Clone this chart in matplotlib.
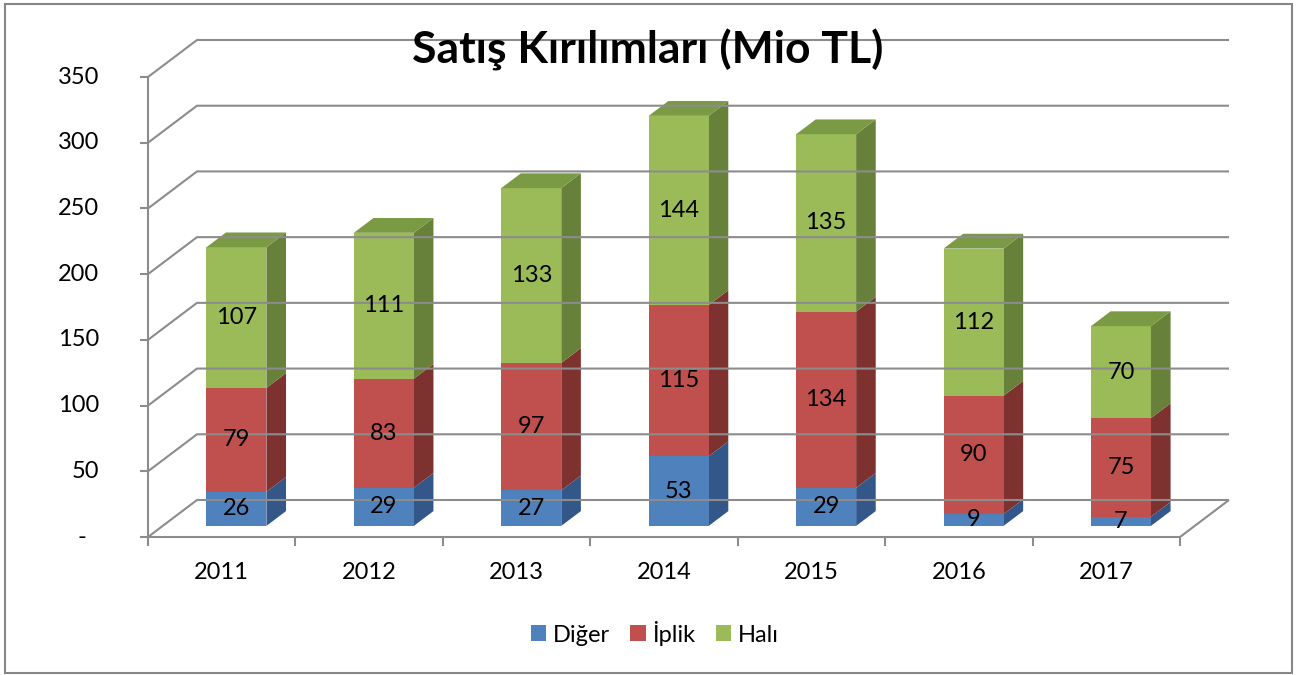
import numpy as np
import matplotlib.pyplot as plt
from matplotlib.patches import Polygon, Rectangle, Patch

plt.rcParams['font.family'] = ['Lato', 'DejaVu Sans']

years = ['2011', '2012', '2013', '2014', '2015', '2016', '2017']
diger = [26, 29, 27, 53, 29, 9, 7]
iplik = [79, 83, 97, 115, 134, 90, 75]
hali = [107, 111, 133, 144, 135, 112, 70]
series = [diger, iplik, hali]
names = ['Diğer', 'İplik', 'Halı']
yticks = [0, 50, 100, 150, 200, 250, 300, 350]
ylabels = ['-  ', '50', '100', '150', '200', '250', '300', '350']

front = ['#4F81BD', '#C0504D', '#9BBB59']
side = ['#34578A', '#7E3230', '#67803A']
top = ['#44709F', '#A04542', '#7A9A43']
grid = '#8C8C8C'

W, H = 1297, 675
fig = plt.figure(figsize=(W / 100, H / 100), dpi=100)
# front plane of the 3d box
ax = fig.add_axes([148 / W, 138 / H, (1180 - 148) / W, (598 - 138) / H])
ax.set_xlim(-0.5, 6.5)
ax.set_ylim(0, 350)
ax.axis('off')

n = len(years)
ddx = 49 / ((1180 - 148) / 7)      # wall depth in category units
ddy = 37 / ((598 - 138) / 350)     # wall depth in value units
kw = dict(color=grid, lw=1.5, clip_on=False, solid_capstyle='butt')

# back wall + left wall gridlines
for v, lab in zip(yticks, ylabels):
    ax.plot([-0.5, -0.5 + ddx, n - 0.5 + ddx], [v, v + ddy, v + ddy], **kw)
    ax.plot([-0.5 - 0.055, -0.5], [v, v], **kw)
    ax.text(-0.5 - 0.33, v, lab, ha='right', va='center', fontsize=17, color='black')
# floor edges and axis
ax.plot([-0.5, -0.5], [0, 350], **kw)
ax.plot([-0.5, n - 0.5, n - 0.5 + ddx], [0, 0, ddy], **kw)
for i in range(n + 1):
    ax.plot([i - 0.5, i - 0.5], [0, -7], **kw)
for i, yr in enumerate(years):
    ax.text(i, -27, yr, ha='center', va='center', fontsize=17, color='black')

# bars
bw = 0.407
f0, f1 = 0.3, 0.7
fx, fy = f0 * ddx, f0 * ddy
bx, by = f1 * ddx, f1 * ddy
for i in range(n):
    x0 = i + fx - bw / 2
    base = 0
    for k, s in enumerate(series):
        b, t = base, base + s[i]
        ax.add_patch(Polygon([(x0 + bw, b + fy), (x0 + bw + bx - fx, b + by),
                              (x0 + bw + bx - fx, t + by), (x0 + bw, t + fy)],
                             closed=True, fc=side[k], ec='none', clip_on=False))
        ax.add_patch(Rectangle((x0, b + fy), bw, t - b, fc=front[k], ec='none',
                               clip_on=False))
        if k == len(series) - 1:
            ax.add_patch(Polygon([(x0, t + fy), (x0 + bw, t + fy),
                                  (x0 + bw + bx - fx, t + by), (x0 + bx - fx, t + by)],
                                 closed=True, fc=top[k], ec='none', clip_on=False))
        ax.text(x0 + bw / 2, (b + t) / 2 + fy, str(s[i]), ha='center', va='center',
                fontsize=17, color='black', zorder=5)
        base = t

fig.text(648 / W, 1 - 50 / H, 'Satış Kırılımları (Mio TL)', ha='center', va='center',
         fontsize=32, fontweight='bold')

handles = [Patch(fc=c, ec='none') for c in front]
fig.legend(handles, names, loc='center', bbox_to_anchor=(655 / W, 1 - 633 / H), ncol=3,
           frameon=False, fontsize=17, handlelength=0.64, handleheight=0.64,
           handletextpad=0.3, columnspacing=0.85)

fig.patches.append(Rectangle((5 / W, 2 / H), 1287 / W, 669 / H, transform=fig.transFigure,
                             fill=False, ec='#868686', lw=1.5))

fig.savefig('out.png', dpi=100)
